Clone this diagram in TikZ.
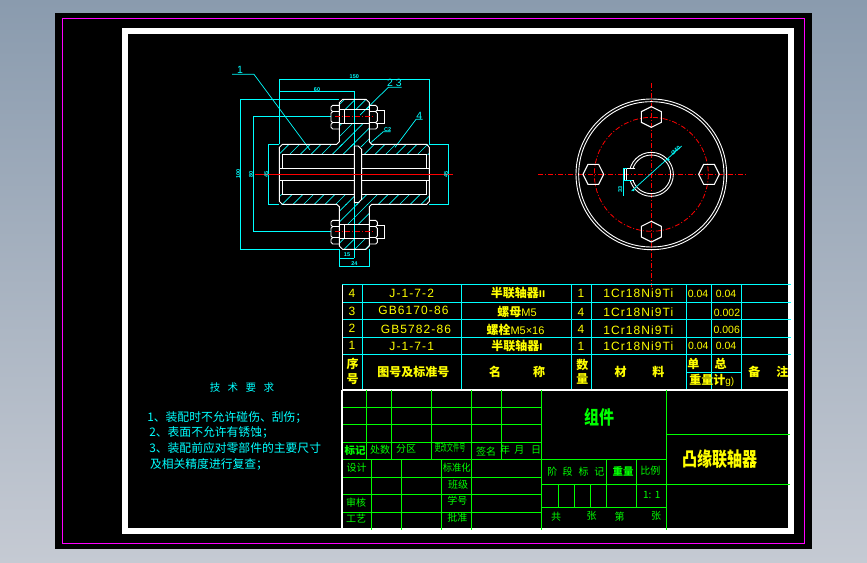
\documentclass[tikz,border=0pt]{standalone}
\usepackage{fontspec}
\usepackage{graphicx}
\setmainfont{Liberation Sans}
\newfontfamily\cjk{Noto Sans CJK SC}
\newfontfamily\lat[LetterSpace=9]{Liberation Sans}
\definecolor{bgtop}{HTML}{8A9BAE}
\definecolor{bgbot}{HTML}{C5CAD3}
\definecolor{mag}{HTML}{FF00FF}
\definecolor{cy}{HTML}{00FFFF}
\definecolor{gr}{HTML}{00FF00}
\definecolor{ye}{HTML}{FFFF00}
\definecolor{rd}{HTML}{FF0000}
\tikzset{
  x=1pt,y=-1pt,
  every node/.style={inner sep=0pt,outer sep=0pt},
  wl/.style={draw=white,line width=.9pt},
  cl/.style={draw=cy,line width=.7pt},
  rl/.style={draw=rd,line width=.8pt,dash pattern=on 5pt off 2pt on 1pt off 2pt},
  rs/.style={draw=rd,line width=1.3pt},
  grid/.style={draw=gr,line width=.8pt},
  tab/.style={draw=cy,line width=.8pt},
  ylat/.style={text=ye,font=\lat\fontsize{12}{12}\selectfont},
  ynum/.style={text=ye,font=\fontsize{10.5}{10.5}\selectfont},
  ybold/.style={text=ye,font=\cjk\bfseries\fontsize{12}{12}\selectfont},
  gtx/.style={text=gr,font=\cjk\fontsize{10}{10}\selectfont},
  gbold/.style={text=gr,font=\cjk\bfseries\fontsize{10.5}{10.5}\selectfont},
  ctx/.style={text=cy,font=\cjk\fontsize{11.8}{11.8}\selectfont,anchor=west},
  dim/.style={text=cy,font=\bfseries\fontsize{5.5}{5.5}\selectfont},
  lead/.style={text=cy,font=\fontsize{10.5}{10.5}\selectfont},
}
\newcommand{\hatchbox}[4]{%
  \begin{scope}
    \clip (#1,#2) rectangle (#3,#4);
    \foreach \hc in {300,332,...,1400} {\draw[cl,line width=.6pt] (\hc,0) -- (\hc-700,700);}
  \end{scope}}
\newcommand{\boltpart}{%
  \draw[wl] (358,136) -- (338,136) -- (333,141) -- (333,150) -- (338,155) -- (333,160) -- (333,183) -- (338,188) -- (333,193) -- (333,202) -- (338,207) -- (358,207);
  \draw[wl] (338,155) -- (358,155) (338,188) -- (358,188);
  \draw[wl] (448,136) -- (467,136) -- (472,141) -- (472,150) -- (467,155) -- (472,160) -- (472,183) -- (467,188) -- (472,193) -- (472,202) -- (467,207) -- (448,207);
  \draw[wl] (448,155) -- (467,155) (448,188) -- (467,188);
  \draw[wl] (472,152) -- (493,152) -- (493,190) -- (472,190);
  \draw[wl,line width=1.6pt] (358,149) -- (448,149) (358,190) -- (448,190);
  \draw[wl] (358,147) -- (358,192) (373,149) -- (373,190) (448,147) -- (448,192);
  \draw[rl,line width=.9pt] (345,169) -- (462,169);
}
\begin{document}
\begin{tikzpicture}
\useasboundingbox (0,0) rectangle (867,562);
\shade[top color=bgtop,bottom color=bgbot] (0,0) rectangle (867,562);
\fill[black] (55,13) rectangle (812,549);
\draw[mag,line width=1.4pt] (62.5,18.5) rectangle (804.5,543.5);
\fill[white] (122,28) rectangle (794,534);
\fill[black] (128,34) rectangle (788,528);

% sectional view
\begin{scope}[shift={(220,60)},x=.33333pt,y=-.33333pt]
  \hatchbox{178}{253}{403}{283}
  \hatchbox{425}{253}{628}{283}
  \hatchbox{403}{253}{425}{258}
  \hatchbox{358}{118}{448}{147}
  \hatchbox{358}{192}{448}{258}
  \hatchbox{178}{403}{403}{433}
  \hatchbox{425}{403}{628}{433}
  \hatchbox{403}{428}{425}{433}
  \hatchbox{358}{433}{448}{492}
  \hatchbox{358}{537}{448}{568}
  \draw[cl] (178,253) -- (178,57) -- (628,57) -- (628,253);
  \draw[cl] (178,95) -- (403,95) -- (403,258);
  \draw[cl] (403,428) -- (403,595);
  \draw[cl] (358,118) -- (61,118) -- (61,568) -- (358,568);
  \draw[cl] (333,168) -- (99,168) -- (99,514) -- (333,514);
  \draw[cl] (178,253) -- (145,253) -- (145,433) -- (178,433);
  \draw[cl] (628,253) -- (686,253) -- (686,433) -- (628,433);
  \draw[cl] (358,568) -- (358,620) -- (448,620) -- (448,568);
  \draw[cl] (358,595) -- (403,595);
  \draw[cl] (36,43) -- (102,43) -- (270,270);
  \draw[cl] (545,82) -- (505,82) -- (420,165);
  \draw[cl] (608,178) -- (588,178) -- (525,262);
  \draw[cl] (512,215) -- (490,215) -- (450,250);
  \draw[wl] (187,253) -- (350,253) -- (358,245) -- (358,128) -- (368,118) -- (438,118) -- (448,128) -- (448,245) -- (455,253) -- (620,253) -- (628,262) -- (628,424) -- (620,433) -- (455,433) -- (448,440) -- (448,558) -- (438,568) -- (368,568) -- (358,558) -- (358,440) -- (350,433) -- (187,433) -- (178,424) -- (178,262) -- cycle;
  \draw[wl] (403,283) -- (187,283) -- (187,325);
  \draw[wl] (187,361) -- (187,403) -- (403,403);
  \draw[wl] (425,283) -- (620,283) -- (620,325);
  \draw[wl] (620,361) -- (620,403) -- (425,403);
  \draw[wl] (178,325) -- (403,325) (178,361) -- (403,361);
  \draw[wl] (425,325) -- (628,325) (425,361) -- (628,361);
  \draw[wl] (403,258) -- (415,258) -- (425,268) -- (425,418) -- (415,428) -- (403,428) -- cycle;
  \boltpart
  \begin{scope}[yshift=-115pt]
    \boltpart
  \end{scope}
  \draw[rs] (105,343) -- (700,343);
  \node[lead] (lab1) at (60,31) {1};
  \node[lead] (lab23) at (523,70) {2 3};
  \node[lead] (lab4) at (598,168) {4};
  \node[dim] (labc) at (503,208) {C2};
  \node[dim] (d1) at (403,50) {150};
  \node[dim] (d2) at (291,88) {60};
  \node[dim,rotate=90] (d3) at (55,343) {100};
  \node[dim,rotate=90] (d4) at (93,343) {80};
  \node[dim,rotate=90] (d5) at (139,343) {45};
  \node[dim,rotate=90] (d6) at (678,343) {45};
  \node[dim] (d7) at (381,585) {15};
  \node[dim] (d8) at (403,612) {24};
\end{scope}

% end view
\begin{scope}[shift={(530,85)},x=.33333pt,y=-.33333pt]
  \coordinate (cc) at (364,268);
  \draw[rl] (25,268) -- (650,268);
  \draw[rl] (364,-5) -- (364,605);
  \draw[wl] (cc) circle [radius=226];
  \draw[wl] (cc) circle [radius=218];
  \draw[rl] (cc) circle [radius=171];
  \draw[wl] (cc) circle [radius=66];
  \draw[wl] (cc) circle [radius=58];
  \fill[black] (281,251) rectangle (316,286);
  \draw[rl] (281,268) -- (316,268);
  \draw[wl] (316,250) -- (283,250) -- (283,287) -- (312,287);
  \draw[wl] (290,250) -- (290,287);
  \foreach \hx/\hy in {364/96,364/440} {
    \draw[wl,line width=1.1pt] (\hx,\hy-31) -- (\hx+30,\hy-16) -- (\hx+30,\hy+16) -- (\hx,\hy+31) -- (\hx-30,\hy+16) -- (\hx-30,\hy-16) -- cycle;
  }
  \foreach \hx/\hy in {190/268,537/268} {
    \draw[wl,line width=1.1pt] (\hx-31,\hy) -- (\hx-16,\hy-30) -- (\hx+16,\hy-30) -- (\hx+31,\hy) -- (\hx+16,\hy+30) -- (\hx-16,\hy+30) -- cycle;
  }
  \draw[cl] (305,318) -- (455,183);
  \fill[cy] (310,315) circle [radius=4] (415,224) circle [radius=4];
  \draw[cl,line width=1pt] (279,250) -- (279,332);
  \draw[cl] (279,250) -- (290,250) (279,287) -- (305,287);
  \node[dim,rotate=90] (d9) at (271,314) {33};
  \node[dim,rotate=42] (d10) at (437,196) {Ø40};
\end{scope}

% parts list
\foreach \yy in {284.7,302.3,319.7,337.3,354.7} {\draw[tab] (342,\yy) -- (790.5,\yy);}
\foreach \xx in {362.3,461.7,571.3,591.3,686.3,711.3,741.3} {\draw[tab] (\xx,284.7) -- (\xx,389);}
\draw[tab] (686.3,372.3) -- (741.3,372.3);
\draw[white,line width=1pt] (342.3,284.7) -- (342.3,389);
\draw[white,line width=2pt] (342.3,390) -- (788,390);
\draw[white,line width=2pt] (342.3,390) -- (342.3,528);
\draw[tab] (711.3,354.7) -- (711.3,372.3);

\node[ynum] (n4) at (352,293.3) {\fontsize{12}{12}\selectfont 4};
\node[ynum] (n3) at (352,311) {\fontsize{12}{12}\selectfont 3};
\node[ynum] (n2) at (352,328.3) {\fontsize{12}{12}\selectfont 2};
\node[ynum] (n1) at (352,345.7) {\fontsize{12}{12}\selectfont 1};
\node[ylat] (c4) at (411.7,293.3) {J-1-7-2};
\node[ylat] (c3) at (413.5,310.7) {GB6170-86};
\node[ylat] (c2) at (416,329) {GB5782-86};
\node[ylat] (c1) at (411.7,346) {J-1-7-1};
\node[ybold] (m4) at (518,293.3) {半联轴器\fontsize{9}{9}\selectfont II};
\node[ybold] (m3) at (517,312) {螺母{\normalfont\fontsize{11}{11}\selectfont M5}};
\node[ybold] (m2) at (515.5,330) {螺栓{\normalfont\fontsize{11}{11}\selectfont M5×16}};
\node[ybold] (m1) at (517,345.7) {半联轴器\fontsize{9}{9}\selectfont I};
\node[ylat] (q4) at (581,293.3) {1};
\node[ylat] (q3) at (581,312) {4};
\node[ylat] (q2) at (581,329) {4};
\node[ylat] (q1) at (581,346.7) {1};
\foreach \nn/\yy in {ma/293.3,mb/312.3,mc/330,md/346.7} {\node[ylat] (\nn) at (638.3,\yy) {1Cr18Ni9Ti};}
\node[ynum] (w1) at (698,294) {0.04};
\node[ynum] (w2) at (726,294) {0.04};
\node[ynum] (w3) at (727,312.7) {0.002};
\node[ynum] (w4) at (726.7,329.7) {0.006};
\node[ynum] (w5) at (698.3,345.7) {0.04};
\node[ynum] (w6) at (726,345.7) {0.04};
\node[ybold] (h1a) at (352.7,364) {序};
\node[ybold] (h1b) at (352.7,379.3) {号};
\node[ybold] (h2) at (413.3,371.7) {图号及标准号};
\node[ybold] (h3a) at (495,371.7) {名};
\node[ybold] (h3b) at (539,371.7) {称};
\node[ybold] (h4a) at (582.3,365) {数};
\node[ybold] (h4b) at (582.3,379.3) {量};
\node[ybold] (h5a) at (620.7,372.3) {材};
\node[ybold] (h5b) at (658.3,372.3) {料};
\node[ybold] (h6a) at (693.3,364) {单};
\node[ybold] (h6b) at (720.7,364) {总};
\node[ybold] (h6c) at (711.7,380) {重量计{\normalfont\fontsize{10}{10}\selectfont g)}};
\node[ybold] (h7a) at (754.3,372.3) {备};
\node[ybold] (h7b) at (782.3,372.3) {注};

% title block
\foreach \yy in {407.3,424.3,442.3,459.3,477.3,494.3,512.3} {\draw[grid] (343,\yy) -- (541.3,\yy);}
\foreach \xx in {366.3,391.3,431.3,471.3,501.3} {\draw[grid] (\xx,390) -- (\xx,459.3);}
\foreach \xx in {371.3,401.3,441.3,471.3} {\draw[grid] (\xx,459.3) -- (\xx,529.5);}
\draw[grid] (541.3,390) -- (541.3,529.5);
\draw[grid] (666.3,390) -- (666.3,529.5);
\draw[grid] (666.3,434.3) -- (790,434.3) (666.3,484.3) -- (790,484.3);
\draw[grid] (541.3,459.3) -- (666.3,459.3) (541.3,484.3) -- (666.3,484.3) (541.3,507.3) -- (666.3,507.3);
\draw[grid] (606.3,459.3) -- (606.3,507.3) (636.3,459.3) -- (636.3,507.3);
\draw[grid] (558.3,484.3) -- (558.3,507.3) (574.3,484.3) -- (574.3,507.3) (590.3,484.3) -- (590.3,507.3);

\node[gbold] (t1) at (355,450.3) {标记};
\node[gtx] (t2) at (380,449.7) {处数};
\node[gtx] (t3) at (406,449) {分区};
\node[gtx] (t4) at (450,448) {\scalebox{.62}[1]{更改文件号}};
\node[gtx] (t5) at (486,451.3) {签名};
\node[gtx] (t6) at (505,449.7) {年};
\node[gtx] (t7) at (519.3,449.7) {月};
\node[gtx] (t8) at (536,449.7) {日};
\node[gtx] (t9) at (356.7,467.3) {设计};
\node[gtx] (t10) at (356,502.3) {审核};
\node[gtx] (t11) at (356,518.7) {工艺};
\node[gtx] (t12) at (456.7,468) {\scalebox{.93}[1]{标准化}};
\node[gtx] (t13) at (458,484.7) {班级};
\node[gtx] (t14) at (457.3,500.7) {学号};
\node[gtx] (t15) at (457.3,518) {批准};
\node[gbold,font=\cjk\bfseries\fontsize{15}{15}\selectfont] (t16) at (599,417.3) {\scalebox{1}[1.25]{组件}};
\node[ybold,font=\cjk\bfseries\fontsize{15}{15}\selectfont] (t17) at (719.7,459.7) {\scalebox{1}[1.3]{凸缘联轴器}};
\node[gtx] (t18) at (552.3,471.3) {阶};
\node[gtx] (t19) at (567.7,471.3) {段};
\node[gtx] (t20) at (583.7,471.3) {标};
\node[gtx] (t21) at (599.3,471.3) {记};
\node[gbold] (t22) at (623,471) {重量};
\node[gtx] (t23) at (650.3,471) {比例};
\node[gtx] (t24) at (651.7,494.7) {1:\,\,1};
\node[gtx] (t25) at (556,517) {共};
\node[gtx] (t26) at (591.7,516) {张};
\node[gtx] (t27) at (619.7,517) {第};
\node[gtx] (t28) at (656,516) {张};

% technical requirements
\node[text=cy,font=\cjk\fontsize{10.5}{10.5}\selectfont] (r0) at (242,387.3) {技\hspace{7.5pt}术\hspace{7.5pt}要\hspace{7.5pt}求};
\node[ctx] (r1) at (147.3,417.3) {1、装配时不允许碰伤、刮伤；};
\node[ctx] (r2) at (149.3,432.7) {2、表面不允许有锈蚀；};
\node[ctx] (r3) at (149.3,447.7) {3、装配前应对零部件的主要尺寸};
\node[ctx] (r4) at (150,464.3) {及相关精度进行复查；};
\end{tikzpicture}
\end{document}
